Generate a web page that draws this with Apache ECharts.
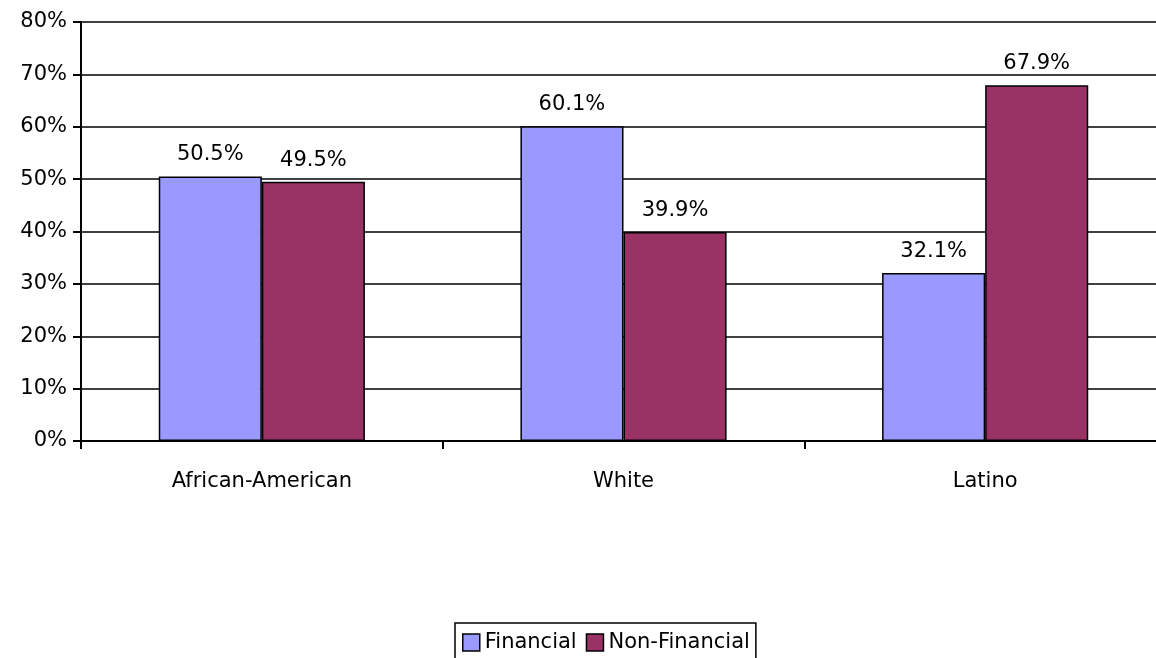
<!DOCTYPE html>
<html><head><meta charset="utf-8">
<script src="https://cdn.jsdelivr.net/npm/echarts@6/dist/echarts.min.js"></script>
<style>html,body{margin:0;padding:0;background:#fff;overflow:hidden;width:1156px;height:658px}#c{width:1166px;height:658px}</style>
</head><body><div id="c"></div>
<script>
const categories = ["African-American", "White", "Latino"];
const financial = [50.5, 60.1, 32.1];
const nonFinancial = [49.5, 39.9, 67.9];
const yTicks = [0, 10, 20, 30, 40, 50, 60, 70, 80];

const font = "DejaVu Sans";
const fs = 21;
const chart = echarts.init(document.getElementById('c'));
const lbl = {show: true, position: 'top', distance: 11, color: '#000', fontFamily: font, fontSize: fs,
  formatter: p => p.value.toFixed(1) + '%'};
chart.setOption({
  animation: false,
  textStyle: {fontFamily: font},
  grid: {left: 81, right: 0, top: 22, bottom: 217, containLabel: false},
  legend: {
    data: ['Financial', 'Non-Financial'],
    left: 455, top: 623,
    icon: 'rect', itemWidth: 17, itemHeight: 17, itemGap: 9,
    borderColor: '#000', borderWidth: 1.5, padding: [9, 6, 20, 7],
    textStyle: {fontFamily: font, fontSize: fs, color: '#000', padding: [0, 0, 0, 0]},
    itemStyle: {borderColor: '#000', borderWidth: 1.5}
  },
  xAxis: {
    type: 'category', data: categories,
    axisLine: {lineStyle: {color: '#000', width: 2}},
    axisTick: {show: true, length: 8, lineStyle: {color: '#000', width: 2}},
    axisLabel: {color: '#000', fontFamily: font, fontSize: fs, margin: 30}
  },
  yAxis: {
    type: 'value', min: 0, max: 80, interval: 10,
    axisLine: {show: true, lineStyle: {color: '#000', width: 2}},
    axisTick: {show: true, length: 8, lineStyle: {color: '#000', width: 2}},
    splitLine: {lineStyle: {color: '#000', width: 1.5}},
    axisLabel: {color: '#000', fontFamily: font, fontSize: fs, margin: 14,
      formatter: v => yTicks.includes(v) ? v + '%' : ''}
  },
  series: [
    {name: 'Financial', type: 'bar', data: financial, barGap: '0%', barCategoryGap: '43%',
     itemStyle: {color: '#9999FF', borderColor: '#000', borderWidth: 1.5}, label: lbl},
    {name: 'Non-Financial', type: 'bar', data: nonFinancial,
     itemStyle: {color: '#993366', borderColor: '#000', borderWidth: 1.5}, label: lbl}
  ]
});
</script></body></html>
